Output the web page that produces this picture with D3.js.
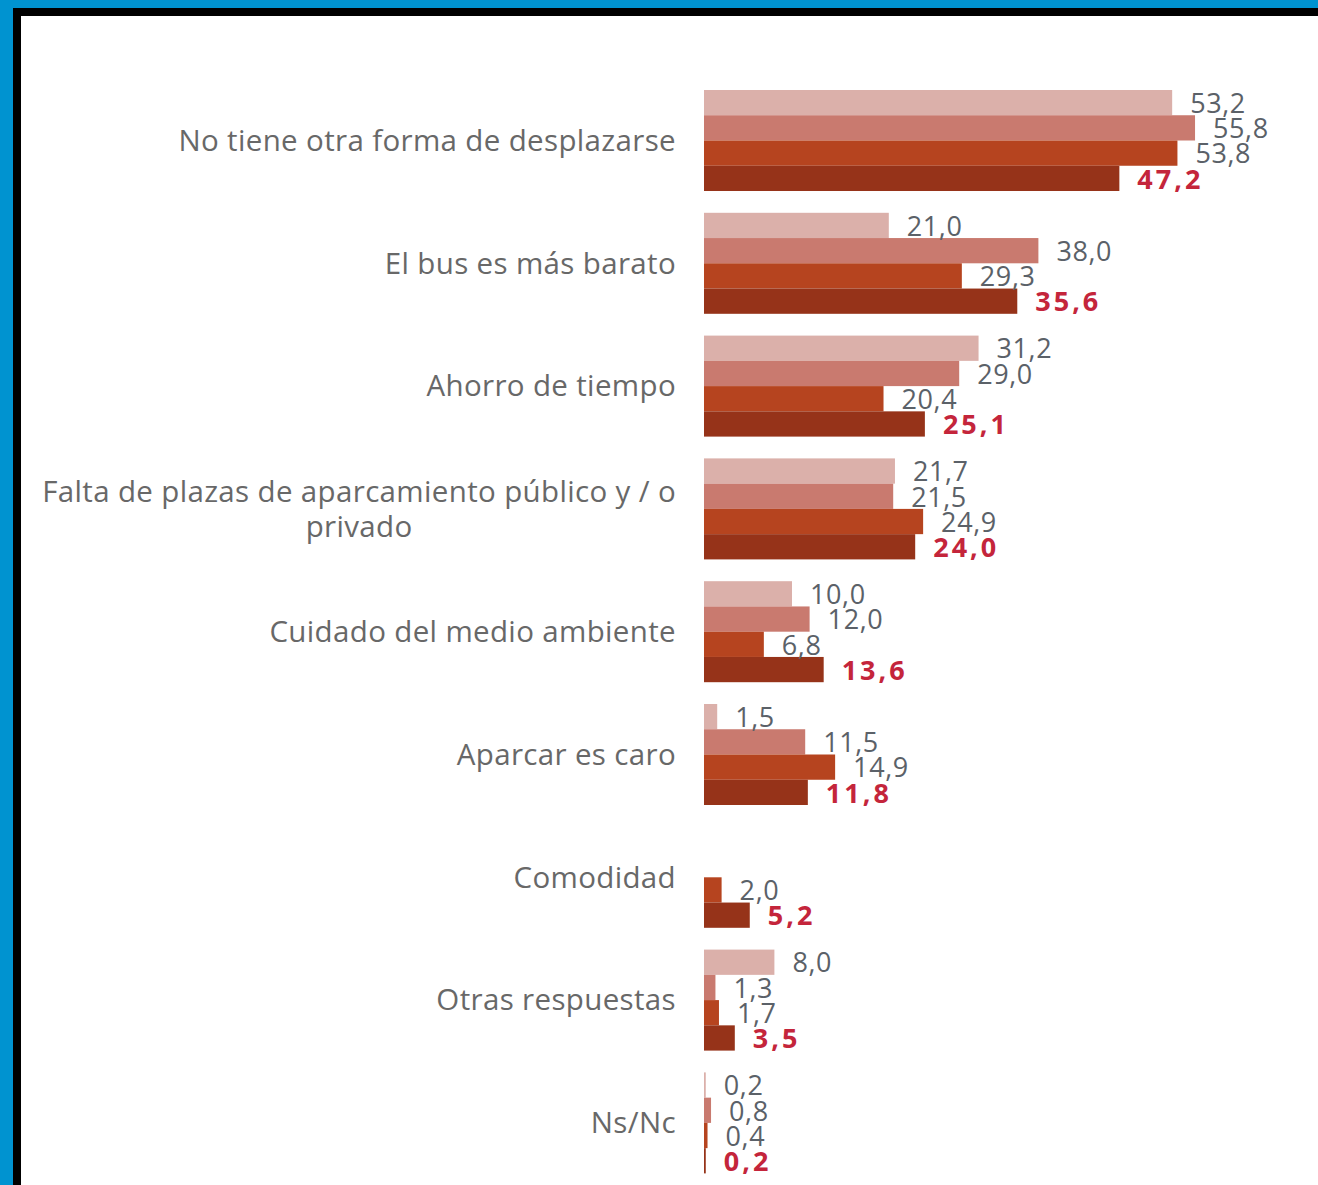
<!DOCTYPE html>
<html>
<head>
<meta charset="utf-8">
<script src="https://cdn.jsdelivr.net/npm/d3@7"></script>
<style>
  body { margin: 0; background: #fff; }
  svg { display: block; }
</style>
</head>
<body>
<div id="chart"></div>
<script>
// categories (top to bottom), "\n" marks a line break in the label
const categories = [
  'No tiene otra forma de desplazarse',
  'El bus es más barato',
  'Ahorro de tiempo',
  'Falta de plazas de aparcamiento público y / o\nprivado',
  'Cuidado del medio ambiente',
  'Aparcar es caro',
  'Comodidad',
  'Otras respuestas',
  'Ns/Nc'
];

// four series, oldest (lightest) to newest (darkest)
const series1 = [53.2, 21.0, 31.2, 21.7, 10.0, 1.5, null, 8.0, 0.2];
const series2 = [55.8, 38.0, 29.0, 21.5, 12.0, 11.5, null, 1.3, 0.8];
const series3 = [53.8, 29.3, 20.4, 24.9, 6.8, 14.9, 2.0, 1.7, 0.4];
const series4 = [47.2, 35.6, 25.1, 24.0, 13.6, 11.8, 5.2, 3.5, 0.2];

const seriesKeys = ['s1', 's2', 's3', 's4'];
const seriesColors = ['#dbb0aa', '#c97a6f', '#b6441f', '#963319'];

const width = 1318, height = 1185;

const data = categories.map((c, i) => ({
  name: c,
  values: [series1[i], series2[i], series3[i], series4[i]]
}));

const svg = d3.select('#chart').append('svg')
  .attr('width', width)
  .attr('height', height);

svg.append('rect').attr('width', width).attr('height', height).attr('fill', '#fff');

// frame: blue outer band, black inner band (top and left only)
svg.append('rect').attr('x', 0).attr('y', 0).attr('width', width).attr('height', 8).attr('fill', '#0093d0');
svg.append('rect').attr('x', 0).attr('y', 0).attr('width', 13).attr('height', height).attr('fill', '#0093d0');
svg.append('rect').attr('x', 13).attr('y', 8).attr('width', width - 13).attr('height', 8).attr('fill', '#000');
svg.append('rect').attr('x', 13).attr('y', 8).attr('width', 8).attr('height', height - 8).attr('fill', '#000');

// scales
const x = d3.scaleLinear().domain([0, 10]).range([704, 792]);

const y = d3.scaleBand()
  .domain(categories)
  .range([90, 1173.4])
  .paddingInner(0.1775)
  .paddingOuter(0);

const ySub = d3.scaleBand()
  .domain(seriesKeys)
  .range([0, y.bandwidth()])
  .padding(0);

const groups = svg.append('g').selectAll('g.group')
  .data(data)
  .join('g')
  .attr('class', 'group')
  .attr('transform', d => `translate(0,${y(d.name)})`);

// bars
groups.selectAll('rect.bar')
  .data(d => d.values.map((v, j) => ({ key: seriesKeys[j], value: v, j })).filter(e => e.value != null))
  .join('rect')
  .attr('class', 'bar')
  .attr('x', x(0))
  .attr('y', e => ySub(e.key))
  .attr('width', e => Math.max(1.5, x(e.value) - x(0)))
  .attr('height', ySub.bandwidth())
  .attr('fill', e => seriesColors[e.j]);

// value labels
const fmt = v => v.toFixed(1).replace('.', ',');
groups.selectAll('text.val')
  .data(d => d.values.map((v, j) => ({ key: seriesKeys[j], value: v, j })).filter(e => e.value != null))
  .join('text')
  .attr('class', 'val')
  .attr('x', e => x(e.value) + 18)
  .attr('y', e => ySub(e.key) + ySub.bandwidth() / 2)
  .attr('dy', '0.38em')
  .attr('font-family', '"Open Sans", sans-serif')
  .attr('font-size', 27)
  .attr('letter-spacing', e => e.j === 3 ? 3 : 0.6)
  .attr('font-weight', e => e.j === 3 ? 700 : 400)
  .attr('fill', e => e.j === 3 ? '#c4253b' : '#5b6168')
  .text(e => fmt(e.value));

// category labels (right aligned block, lines centred to each other)
const labelRight = 676;
const lineH = 35;
groups.each(function (d) {
  const g = d3.select(this);
  const lines = d.name.split('\n');
  const t = g.append('text')
    .attr('font-family', '"Open Sans", sans-serif')
    .attr('font-size', 29.5)
    .attr('letter-spacing', 0.35)
    .attr('fill', '#686868')
    .attr('text-anchor', 'middle');
  const spans = lines.map((ln, k) => t.append('tspan')
    .attr('y', y.bandwidth() / 2 + (k - (lines.length - 1) / 2) * lineH)
    .attr('dy', '0.35em')
    .text(ln));
  const maxW = d3.max(spans, s => s.node().getComputedTextLength());
  spans.forEach(s => s.attr('x', labelRight - maxW / 2));
});
</script>
</body>
</html>
